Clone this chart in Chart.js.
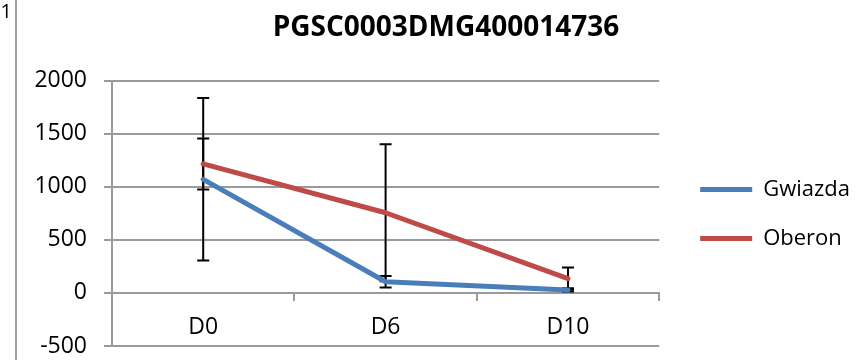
<!DOCTYPE html>
<html>
<head>
<meta charset="utf-8">
<script src="https://cdn.jsdelivr.net/npm/chart.js@4"></script>
<style>
html,body{margin:0;padding:0;background:#fff;}
#wrap{width:858px;height:360px;position:relative;}
</style>
</head>
<body>
<div id="wrap"><canvas id="c" width="858" height="360"></canvas></div>
<script>
const chartTitle = 'PGSC0003DMG400014736';
const categories = ['D0', 'D6', 'D10'];
const gwiazda = [1070, 105, 28];
const gwiazdaErr = [765, 55, 15];
const oberon = [1215, 755, 135];
const oberonErr = [240, 645, 105];
const yMin = -500, yMax = 2000, yStep = 500;

const FONT = "'Open Sans', 'Liberation Sans', sans-serif";
const GRID = '#9a9a9a';

const errorBars = {
  id: 'errorBars',
  beforeDatasetsDraw(chart) {
    const ctx = chart.ctx;
    const xs = chart.scales.x, ys = chart.scales.y;
    ctx.save();
    ctx.strokeStyle = '#000';
    ctx.lineWidth = 2;
    chart.data.datasets.forEach(ds => {
      if (!ds.errors) return;
      ds.data.forEach((v, i) => {
        const e = ds.errors[i];
        const x = xs.getPixelForValue(i);
        const yh = ys.getPixelForValue(v + e);
        const yl = ys.getPixelForValue(v - e);
        ctx.beginPath();
        ctx.moveTo(x, yh); ctx.lineTo(x, yl);
        ctx.moveTo(x - 6, yh); ctx.lineTo(x + 6, yh);
        ctx.moveTo(x - 6, yl); ctx.lineTo(x + 6, yl);
        ctx.stroke();
      });
    });
    ctx.restore();
  }
};

// nudge legend and title blocks to sit where the reference has them
const blockNudge = {
  id: 'blockNudge',
  afterLayout(chart) {
    const lg = chart.legend;
    if (lg) {
      lg.left += 14; lg.right += 12; lg.width = lg.right - lg.left;
      lg.top += 34; lg.bottom += 34;
    }
    const t = chart.titleBlock;
    if (t) { t.left += 8; t.right += 8; }
  }
};

const sheetDecor = {
  id: 'sheetDecor',
  afterDraw(chart) {
    const ctx = chart.ctx;
    ctx.save();
    ctx.strokeStyle = '#a0a0a0';
    ctx.lineWidth = 2;
    ctx.beginPath(); ctx.moveTo(16, 0); ctx.lineTo(16, 360); ctx.stroke();
    ctx.fillStyle = '#000';
    ctx.font = "20px " + FONT;
    ctx.textAlign = 'right';
    ctx.textBaseline = 'alphabetic';
    ctx.fillText('1', 12, 18);
    ctx.restore();
  }
};

new Chart(document.getElementById('c'), {
  type: 'line',
  data: {
    labels: categories,
    datasets: [
      { label: 'Gwiazda', data: gwiazda, errors: gwiazdaErr, borderColor: '#4A7EBB', backgroundColor: '#4A7EBB',
        borderWidth: 5, pointRadius: 0, tension: 0, borderCapStyle: 'round', borderJoinStyle: 'round' },
      { label: 'Oberon', data: oberon, errors: oberonErr, borderColor: '#BE4B48', backgroundColor: '#BE4B48',
        borderWidth: 5, pointRadius: 0, tension: 0, borderCapStyle: 'round', borderJoinStyle: 'round' }
    ]
  },
  options: {
    responsive: false,
    animation: false,
    devicePixelRatio: 1,
    layout: { padding: { left: 30, right: 12, top: 0, bottom: 0 } },
    plugins: {
      title: {
        display: true, text: chartTitle, color: '#000',
        font: { family: FONT, size: 28, weight: 'bold' },
        padding: { top: 11, bottom: 36 }
      },
      legend: {
        position: 'right',
        labels: {
          color: '#000', font: { family: FONT, size: 22 },
          boxWidth: 52, boxHeight: 5, padding: 27,
          generateLabels(chart) {
            return chart.data.datasets.map((ds, i) => ({
              text: ds.label, fillStyle: ds.borderColor, strokeStyle: ds.borderColor,
              lineWidth: 0, hidden: false, datasetIndex: i, fontColor: '#000'
            }));
          }
        }
      },
      tooltip: { enabled: false }
    },
    scales: {
      x: {
        position: { y: 0 },
        offset: true,
        grid: { offset: true, drawOnChartArea: false, drawTicks: true, tickLength: 7, color: GRID, lineWidth: 2 },
        border: { display: true, color: GRID, width: 2 },
        ticks: { color: '#000', font: { family: FONT, size: 23 }, padding: 14, maxRotation: 0 }
      },
      y: {
        min: yMin, max: yMax,
        afterFit(s) { s.width = 82; s.paddingBottom = 14; s.paddingTop = 14; },
        grid: { color: GRID, lineWidth: 2, drawTicks: true, tickLength: 8 },
        border: { display: true, color: GRID, width: 2 },
        ticks: { stepSize: yStep, color: '#000', font: { family: FONT, size: 23 }, padding: 17,
                 callback: v => String(v) }
      }
    }
  },
  plugins: [errorBars, blockNudge, sheetDecor]
});
</script>
</body>
</html>
